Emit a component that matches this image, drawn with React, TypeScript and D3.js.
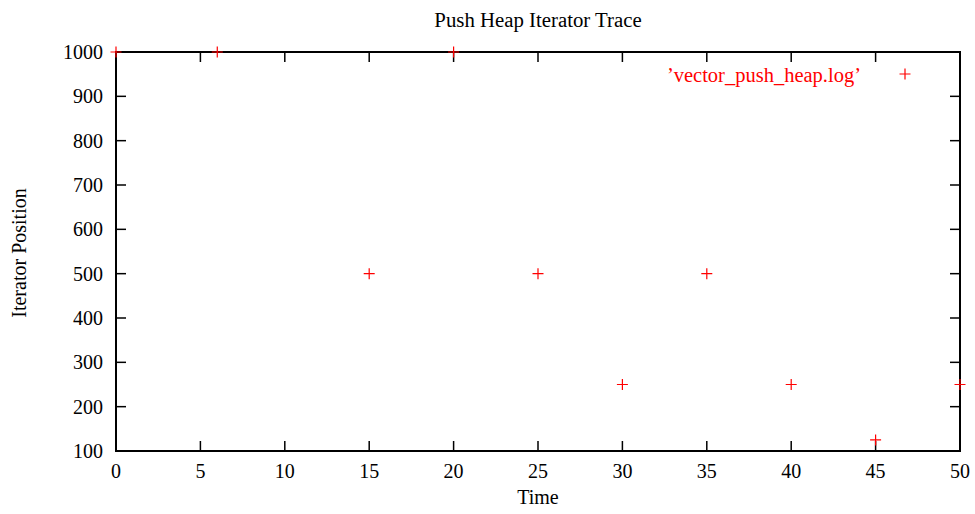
import React from "react";
import * as d3 from "d3";

const times = [0, 6, 15, 20, 25, 30, 35, 40, 45, 50];
const positions = [1000, 1000, 500, 1000, 500, 250, 500, 250, 125, 250];
const xTicks = [0, 5, 10, 15, 20, 25, 30, 35, 40, 45, 50];
const yTicks = [100, 200, 300, 400, 500, 600, 700, 800, 900, 1000];
const seriesName = "\u2019vector_push_heap.log\u2019";

const W = 975;
const H = 514;
const left = 116;
const right = 960;
const top = 52;
const bottom = 451;
const font = "'Liberation Serif', 'Times New Roman', serif";

export default function App() {
  const x = d3.scaleLinear().domain([0, 50]).range([left, right]);
  const y = d3.scaleLinear().domain([100, 1000]).range([bottom, top]);
  const tick = 10;
  const half = 5.5;

  const plus = (cx: number, cy: number, key: string) => (
    <path
      key={key}
      d={`M${cx - half},${cy}H${cx + half}M${cx},${cy - half}V${cy + half}`}
      stroke="#ff0000"
      strokeWidth={1.2}
      fill="none"
    />
  );

  return (
    <svg
      width={W}
      height={H}
      style={{ position: "absolute", left: 0, top: 0, background: "#fff" }}
      fontFamily={font}
    >
      <rect x={0} y={0} width={W} height={H} fill="#fff" />
      {/* ticks, mirrored on all four sides, pointing inward */}
      <g stroke="#000" strokeWidth={1.5}>
        {xTicks.map((t) => (
          <g key={`xt${t}`}>
            <line x1={x(t)} x2={x(t)} y1={bottom} y2={bottom - tick} />
            <line x1={x(t)} x2={x(t)} y1={top} y2={top + tick} />
          </g>
        ))}
        {yTicks.map((t) => (
          <g key={`yt${t}`}>
            <line x1={left} x2={left + tick} y1={y(t)} y2={y(t)} />
            <line x1={right} x2={right - tick} y1={y(t)} y2={y(t)} />
          </g>
        ))}
      </g>
      <rect
        x={left}
        y={top}
        width={right - left}
        height={bottom - top}
        fill="none"
        stroke="#000"
        strokeWidth={2}
      />
      <g fontSize={20} fill="#000">
        {xTicks.map((t) => (
          <text key={`xl${t}`} x={x(t)} y={478} textAnchor="middle">
            {t}
          </text>
        ))}
        {yTicks.map((t) => (
          <text key={`yl${t}`} x={103} y={y(t) + 7} textAnchor="end">
            {t}
          </text>
        ))}
        <text x={538} y={27} textAnchor="middle" fontSize={20.8}>
          Push Heap Iterator Trace
        </text>
        <text x={538} y={504} textAnchor="middle">
          Time
        </text>
        <text
          transform={`translate(26,253) rotate(-90)`}
          textAnchor="middle"
        >
          Iterator Position
        </text>
      </g>
      <text x={861} y={82} textAnchor="end" fontSize={20.5} fill="#ff0000">
        {seriesName}
      </text>
      {plus(905, 74, "legend")}
      {times.map((t, i) => plus(x(t), y(positions[i]), `p${i}`))}
    </svg>
  );
}
